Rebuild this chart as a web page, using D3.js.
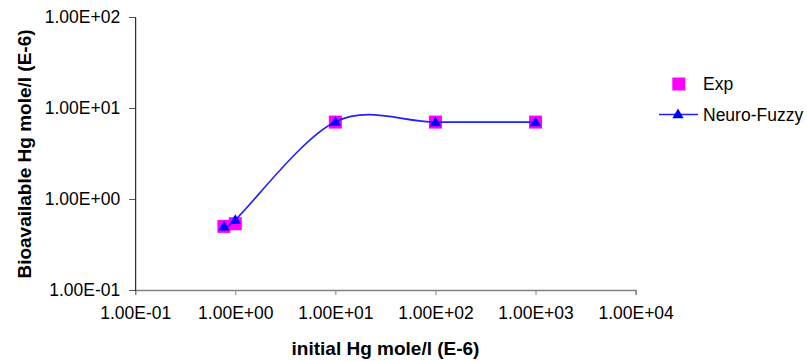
<!DOCTYPE html>
<html>
<head>
<meta charset="utf-8">
<script src="https://cdn.jsdelivr.net/npm/d3@7"></script>
<style>
	body { margin: 0; background: #fff; }
	text { font-family: "Liberation Sans", Arial, sans-serif; }
</style>
</head>
<body>
<div id="chart"></div>
<script>
//==============================================================
//Data
//==============================================================
var initialHg = [0.77, 1, 10, 100, 1000];
var expValues = [0.50, 0.535, 7.0, 7.0, 7.0];
var neuroFuzzyValues = [0.50, 0.59, 7.05, 7.0, 7.0];
var xTicks = [0.1, 1, 10, 100, 1000, 10000];
var yTicks = [0.1, 1, 10, 100];
var seriesNames = ["Exp", "Neuro-Fuzzy"];

//==============================================================
//Setup
//==============================================================
var width = 807,
	height = 361;

var svg = d3.select("#chart").append("svg")
	.attr("width", width)
	.attr("height", height);

svg.append("rect")
	.attr("width", width)
	.attr("height", height)
	.attr("fill", "#fff");

var xScale = d3.scaleLog()
	.domain([0.1, 10000])
	.range([135.2, 635.6]);

var yScale = d3.scaleLog()
	.domain([0.1, 100])
	.range([290, 17]);

// excel style 1.00E+01
function sci(v) {
	var e = Math.round(Math.log10(v));
	var s = Math.abs(e) < 10 ? "0" + Math.abs(e) : "" + Math.abs(e);
	return "1.00E" + (e < 0 ? "-" : "+") + s;
}

//==============================================================
//Axes
//==============================================================
var xAxis = svg.append("g")
	.attr("transform", "translate(0,290)")
	.call(d3.axisBottom(xScale).tickValues(xTicks).tickFormat(sci).tickSize(5).tickPadding(12));

xAxis.select(".domain").attr("stroke", "#808080").attr("stroke-width", 1.3);
xAxis.selectAll(".tick line").attr("stroke", "#808080");
xAxis.selectAll(".tick text")
	.attr("font-size", "17.5px")
	.attr("font-family", "Liberation Sans, Arial, sans-serif")
	.attr("fill", "#000");

var yAxis = svg.append("g")
	.attr("transform", "translate(135.2,0)")
	.call(d3.axisLeft(yScale).tickValues(yTicks).tickFormat(sci).tickSize(6).tickPadding(9));

yAxis.select(".domain").attr("stroke", "#000");
yAxis.selectAll(".tick line").attr("stroke", "#555");
yAxis.selectAll(".tick text")
	.attr("font-size", "17.5px")
	.attr("font-family", "Liberation Sans, Arial, sans-serif")
	.attr("fill", "#000");

// axis titles
svg.append("text")
	.attr("x", 385.5)
	.attr("y", 348)
	.attr("dy", "0.35em")
	.attr("text-anchor", "middle")
	.attr("font-size", "19px")
	.attr("font-weight", "bold")
	.text("initial Hg mole/l (E-6)");

svg.append("text")
	.attr("transform", "translate(24,154) rotate(-90)")
	.attr("dy", "0.35em")
	.attr("text-anchor", "middle")
	.attr("font-size", "19px")
	.attr("font-weight", "bold")
	.text("Bioavailable Hg mole/l (E-6)");

//==============================================================
//Series
//==============================================================
var expData = initialHg.map(function (x, i) { return { x: x, y: expValues[i] }; });
var nfData = initialHg.map(function (x, i) { return { x: x, y: neuroFuzzyValues[i] }; });

var triangle = d3.symbol().type(d3.symbolTriangle).size(55);

svg.selectAll(".exp")
	.data(expData)
	.enter().append("rect")
	.attr("class", "exp")
	.attr("x", function (d) { return xScale(d.x) - 6.5; })
	.attr("y", function (d) { return yScale(d.y) - 6.5; })
	.attr("width", 13)
	.attr("height", 13)
	.attr("fill", "#ff00ff");

// smoothed line like excel
var line = d3.line()
	.x(function (d) { return xScale(d.x); })
	.y(function (d) { return yScale(d.y); })
	.curve(d3.curveCardinal.tension(0));

svg.append("path")
	.datum(nfData)
	.attr("d", line)
	.attr("fill", "none")
	.attr("stroke", "#2020ff")
	.attr("stroke-width", 1.6);

svg.selectAll(".nf")
	.data(nfData)
	.enter().append("path")
	.attr("class", "nf")
	.attr("d", triangle)
	.attr("transform", function (d) { return "translate(" + xScale(d.x) + "," + (yScale(d.y) + 0.8) + ")"; })
	.attr("fill", "#0000ff");

//==============================================================
//Legend
//==============================================================
var legend = svg.append("g");

legend.append("rect")
	.attr("x", 672.3)
	.attr("y", 77.5)
	.attr("width", 13)
	.attr("height", 13)
	.attr("fill", "#ff00ff");

legend.append("line")
	.attr("x1", 659)
	.attr("x2", 698)
	.attr("y1", 114.5)
	.attr("y2", 114.5)
	.attr("stroke", "#2020ff")
	.attr("stroke-width", 1.6);

legend.append("path")
	.attr("d", triangle)
	.attr("transform", "translate(678,115)")
	.attr("fill", "#0000ff");

legend.selectAll(".legtext")
	.data(seriesNames)
	.enter().append("text")
	.attr("class", "legtext")
	.attr("x", 703)
	.attr("y", function (d, i) { return 83.5 + i * 31; })
	.attr("dy", "0.35em")
	.attr("font-size", "17.5px")
	.text(function (d) { return d; });
</script>
</body>
</html>
